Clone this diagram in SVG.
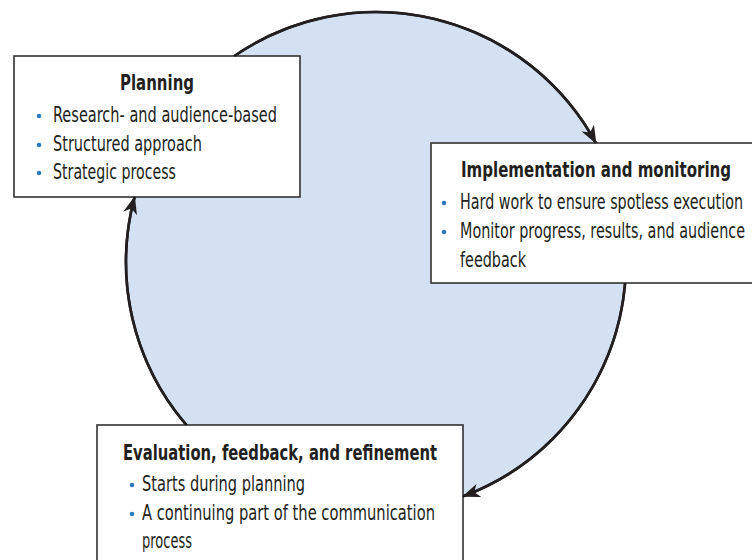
<svg xmlns="http://www.w3.org/2000/svg" width="752" height="560" viewBox="0 0 752 560">
  <style>
    .box { fill: #ffffff; stroke: #333132; stroke-width: 1.6; }
    .title { font-family: "Liberation Sans Narrow", "DejaVu Sans Condensed", "Liberation Sans", sans-serif; font-size: 21px; font-weight: bold; fill: #231f20; }
    .item { font-family: "Liberation Sans Narrow", "DejaVu Sans Condensed", "Liberation Sans", sans-serif; font-size: 21px; fill: #231f20; }
    .bullet { fill: #2a7bbf; }
    .conn { fill: none; stroke: #231f20; stroke-width: 2.6; marker-end: url(#arrow); }
  </style>
  <defs>
    <marker id="arrow" markerUnits="userSpaceOnUse" markerWidth="18" markerHeight="14" refX="17" refY="7" orient="auto">
      <path d="M0,0 L18,7 L0,14 L5,7 Z" fill="#231f20"/>
    </marker>
  </defs>
  <rect width="752" height="560" fill="#ffffff"/>
  <circle id="cycle" cx="376" cy="262" r="250" fill="#d4e1f2" stroke="#231f20" stroke-width="2.6"/>

  <g id="planning">
    <rect class="box" x="14" y="56" width="286" height="141"/>
    <text class="title" transform="translate(120,90) scale(0.78,1)" textLength="94.9" lengthAdjust="spacingAndGlyphs">Planning</text>
    <circle class="bullet" cx="39" cy="116" r="2.3"/>
    <text class="item" transform="translate(53,122) scale(0.78,1)" textLength="287.2" lengthAdjust="spacingAndGlyphs">Research- and audience-based</text>
    <circle class="bullet" cx="39" cy="145" r="2.3"/>
    <text class="item" transform="translate(53,151) scale(0.78,1)" textLength="191" lengthAdjust="spacingAndGlyphs">Structured approach</text>
    <circle class="bullet" cx="39" cy="173" r="2.3"/>
    <text class="item" transform="translate(53,179) scale(0.78,1)" textLength="157.7" lengthAdjust="spacingAndGlyphs">Strategic process</text>
  </g>

  <g id="implementation">
    <rect class="box" x="431" y="143" width="323" height="140"/>
    <text class="title" transform="translate(461,177) scale(0.78,1)" textLength="346.2" lengthAdjust="spacingAndGlyphs">Implementation and monitoring</text>
    <circle class="bullet" cx="444" cy="203" r="2.3"/>
    <text class="item" transform="translate(460,209) scale(0.78,1)" textLength="362.8" lengthAdjust="spacingAndGlyphs">Hard work to ensure spotless execution</text>
    <circle class="bullet" cx="444" cy="232" r="2.3"/>
    <text class="item" transform="translate(460,238) scale(0.78,1)" textLength="365.4" lengthAdjust="spacingAndGlyphs">Monitor progress, results, and audience</text>
    <text class="item" transform="translate(460,267) scale(0.78,1)" textLength="84.6" lengthAdjust="spacingAndGlyphs">feedback</text>
  </g>

  <g id="evaluation">
    <rect class="box" x="97" y="425" width="366" height="150"/>
    <text class="title" transform="translate(123,460) scale(0.78,1)" textLength="402.6" lengthAdjust="spacingAndGlyphs">Evaluation, feedback, and refinement</text>
    <circle class="bullet" cx="132" cy="485" r="2.3"/>
    <text class="item" transform="translate(142,491) scale(0.78,1)" textLength="209" lengthAdjust="spacingAndGlyphs">Starts during planning</text>
    <circle class="bullet" cx="132" cy="514" r="2.3"/>
    <text class="item" transform="translate(142,520) scale(0.78,1)" textLength="375.6" lengthAdjust="spacingAndGlyphs">A continuing part of the communication</text>
    <text class="item" transform="translate(142,548) scale(0.78,1)" textLength="64.1" lengthAdjust="spacingAndGlyphs">process</text>
  </g>

  <g id="connectors">
    <path class="conn" d="M234.4,56 A250,250 0 0 1 595.9,143"/>
    <path class="conn" d="M625.1,283 A250,250 0 0 1 463,496.4"/>
    <path class="conn" d="M186.4,425 A250,250 0 0 1 134.6,197"/>
  </g>
</svg>
